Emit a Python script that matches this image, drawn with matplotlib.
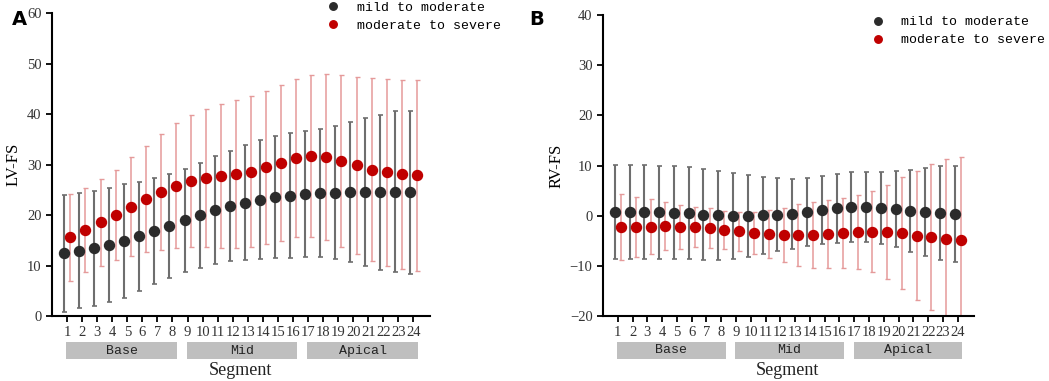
import numpy as np
import matplotlib
matplotlib.use("Agg")
import matplotlib.pyplot as plt
from matplotlib.patches import Rectangle

segments = np.arange(1, 25)
regions = ["Base", "Mid", "Apical"]

# LV-FS (panel A)
lv_mild_mean = [12.4, 12.9, 13.4, 14.05, 14.85, 15.75, 16.8, 17.9, 18.95, 20.0, 20.95, 21.75,
                22.45, 23.05, 23.5, 23.85, 24.15, 24.35, 24.45, 24.55, 24.55, 24.55, 24.65, 24.5]
lv_mild_sd = [11.6, 11.4, 11.4, 11.25, 11.25, 10.85, 10.5, 10.3, 10.25, 10.4, 10.65, 10.95,
              11.35, 11.75, 12.1, 12.35, 12.55, 12.75, 13.15, 13.85, 14.65, 15.35, 15.95, 16.2]
lv_sev_mean = [15.6, 17.05, 18.55, 20.05, 21.65, 23.2, 24.55, 25.8, 26.8, 27.4, 27.7, 28.1,
               28.6, 29.45, 30.3, 31.25, 31.7, 31.45, 30.7, 29.85, 29.0, 28.45, 28.05, 27.85]
lv_sev_sd = [8.6, 8.35, 8.55, 8.95, 9.75, 10.5, 11.45, 12.4, 13.1, 13.7, 14.2, 14.7,
             15.0, 15.15, 15.4, 15.65, 16.0, 16.45, 17.0, 17.55, 18.1, 18.45, 18.65, 18.85]

# RV-FS (panel B)
rv_mild_mean = [0.73, 0.73, 0.73, 0.66, 0.6, 0.47, 0.23, 0.07, -0.07, -0.03, 0.04, 0.2,
                0.4, 0.8, 1.13, 1.46, 1.67, 1.67, 1.53, 1.27, 0.97, 0.7, 0.53, 0.37]
rv_mild_sd = [9.3, 9.3, 9.3, 9.23, 9.23, 9.17, 9.0, 8.84, 8.64, 8.2, 7.74, 7.3,
              6.97, 6.78, 6.71, 6.84, 6.97, 6.97, 7.17, 7.57, 8.14, 8.8, 9.3, 9.53]
rv_sev_mean = [-2.25, -2.26, -2.16, -2.09, -2.26, -2.26, -2.46, -2.82, -3.09, -3.39, -3.62, -3.86,
               -3.85, -3.89, -3.69, -3.49, -3.22, -3.19, -3.22, -3.45, -3.96, -4.25, -4.58, -4.78]
rv_sev_sd = [6.55, 5.98, 5.41, 4.81, 4.45, 4.05, 3.92, 3.75, 3.89, 4.19, 4.75, 5.45,
             6.11, 6.55, 6.74, 6.94, 7.34, 8.1, 9.33, 11.15, 12.92, 14.55, 15.78, 16.53]

DARK = "#2b2b2b"
RED = "#c00000"
mono = "Liberation Mono"
serif = "Liberation Serif"

fig = plt.figure(figsize=(10.49, 3.81), dpi=100)
axA = fig.add_axes([0.0496, 0.1706, 0.3603, 0.795])
axB = fig.add_axes([0.5748, 0.1706, 0.3537, 0.790])


def panel(ax, m1, s1, m2, s2, ylim, yticks, ylabel, letter, letter_x, leg_anchor):
    ax.errorbar(segments - 0.2, m1, yerr=s1, fmt="none",
                ecolor="#6e6e6e", elinewidth=1.5, capsize=1.8, capthick=1.2, zorder=2)
    ax.errorbar(segments + 0.22, m2, yerr=s2, fmt="none",
                ecolor="#e59a9a", elinewidth=1.1, capsize=1.8, capthick=1.0, zorder=1)
    h1, = ax.plot(segments - 0.2, m1, "o", color=DARK, ms=7.2, label="mild to moderate", zorder=4)
    h2, = ax.plot(segments + 0.22, m2, "o", color=RED, ms=7.2, label="moderate to severe", zorder=3)
    ax.set_xlim(0, 25.1)
    ax.set_ylim(*ylim)
    ax.set_yticks(yticks)
    ax.set_xticks(segments)
    ax.set_xticklabels([str(s) for s in segments], fontfamily=serif, fontsize=10.5)
    for t in ax.get_yticklabels():
        t.set_fontfamily(serif)
        t.set_fontsize(10.5)
    for s in ["top", "right"]:
        ax.spines[s].set_visible(False)
    for s in ["left", "bottom"]:
        ax.spines[s].set_linewidth(1.5)
    ax.tick_params(width=1.3, length=4.5, color="black", labelcolor="#333333", pad=3)
    ax.set_ylabel(ylabel, fontfamily=serif, fontsize=12, labelpad=4)

    # region bands below the x axis
    trans = ax.get_xaxis_transform()
    for name, st in zip(regions, [1, 9, 17]):
        x0 = st - 0.05
        x1 = st + 7 + 0.3
        ax.add_patch(Rectangle((x0, -0.142), x1 - x0, 0.056, transform=trans,
                               facecolor="#bfbfbf", edgecolor="none", clip_on=False))
        ax.text((x0 + x1) / 2, -0.114, name, transform=trans, ha="center", va="center",
                fontfamily=mono, fontsize=9.5, color="#222222")
    ax.text(12.5, -0.18, "Segment", transform=trans, ha="center", va="center",
            fontfamily=serif, fontsize=13, color="#222222")

    fig.legend(handles=[h1, h2], loc="upper left", bbox_to_anchor=leg_anchor,
               frameon=False, prop={"family": mono, "size": 9.5}, handletextpad=1.3,
               labelspacing=0.45, markerscale=0.75, handlelength=1.0,
               borderpad=0, borderaxespad=0)
    fig.text(letter_x, 0.975, letter, fontsize=14, fontweight="bold",
             fontfamily="DejaVu Sans", va="top", ha="left")


panel(axA, lv_mild_mean, lv_mild_sd, lv_sev_mean, lv_sev_sd, (0, 60),
      np.arange(0, 61, 10), "LV-FS", "A", 0.011, (0.311, 0.996))
panel(axB, rv_mild_mean, rv_mild_sd, rv_sev_mean, rv_sev_sd, (-20, 40),
      np.arange(-20, 41, 10), "RV-FS", "B", 0.505, (0.8304, 0.958))

fig.savefig("out.png", dpi=100)
